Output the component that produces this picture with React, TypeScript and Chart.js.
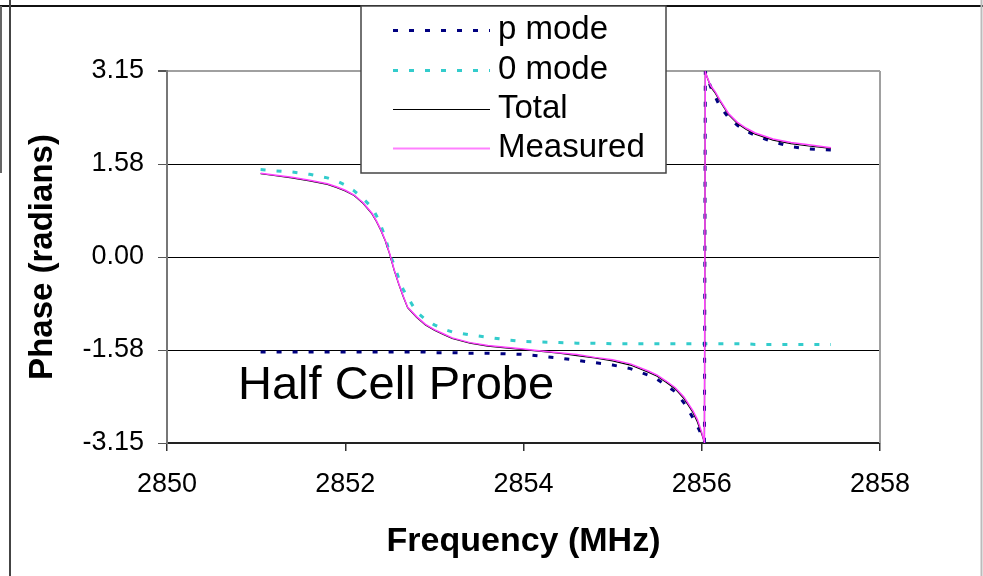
import React, { useEffect, useRef } from 'react';
import { Chart, registerables } from 'chart.js';

Chart.register(...registerables);

// ---- data ----
const frequencies = [
  2851.05, 2851.2, 2851.4, 2851.6, 2851.8, 2851.9, 2852.0, 2852.1, 2852.2, 2852.3,
  2852.35, 2852.4, 2852.45, 2852.5, 2852.55, 2852.6, 2852.65, 2852.7, 2852.8, 2852.9,
  2853.0, 2853.1, 2853.2, 2853.4, 2853.6, 2853.8, 2854.0, 2854.2, 2854.4, 2854.6,
  2854.8, 2855.0, 2855.2, 2855.4, 2855.5, 2855.6, 2855.7, 2855.8, 2855.9, 2855.95,
  2856.0, 2856.03, 2856.04, 2856.1, 2856.15, 2856.2, 2856.3, 2856.4, 2856.5, 2856.6,
  2856.8, 2857.0, 2857.2, 2857.45,
];

const pModePhase = [
  -1.61, -1.61, -1.61, -1.61, -1.61, -1.61, -1.61, -1.61, -1.61, -1.61,
  -1.61, -1.61, -1.61, -1.61, -1.61, -1.61, -1.61, -1.61, -1.61, -1.61,
  -1.62, -1.62, -1.62, -1.63, -1.63, -1.64, -1.65, -1.68, -1.71, -1.75,
  -1.79, -1.83, -1.89, -2.0, -2.07, -2.17, -2.28, -2.47, -2.72, -2.86,
  -3.02, -3.14, 3.14, 2.88, 2.72, 2.56, 2.36, 2.23, 2.13, 2.06,
  1.95, 1.87, 1.83, 1.81,
];

const zeroModePhase = [
  1.48, 1.46, 1.44, 1.4, 1.34, 1.29, 1.22, 1.12, 0.99, 0.84,
  0.7, 0.53, 0.33, 0.05, -0.14, -0.36, -0.55, -0.68, -0.93, -1.06,
  -1.15, -1.22, -1.27, -1.32, -1.36, -1.4, -1.43, -1.44, -1.45, -1.46,
  -1.46, -1.47, -1.47, -1.47, -1.47, -1.47, -1.47, -1.47, -1.47, -1.47,
  -1.47, -1.47, -1.47, -1.47, -1.47, -1.47, -1.47, -1.47, -1.47, -1.48,
  -1.48, -1.48, -1.48, -1.48,
];

const totalPhase = [
  1.41, 1.38, 1.34, 1.29, 1.23, 1.18, 1.12, 1.04, 0.91, 0.73,
  0.6, 0.45, 0.27, 0.04, -0.23, -0.46, -0.67, -0.86, -1.02, -1.15,
  -1.24, -1.31, -1.38, -1.46, -1.51, -1.54, -1.57, -1.6, -1.63, -1.67,
  -1.71, -1.76, -1.83, -1.95, -2.02, -2.12, -2.23, -2.4, -2.63, -2.79,
  -3.0, -3.14, 3.13, 2.88, 2.78, 2.65, 2.41, 2.26, 2.16, 2.08,
  1.98, 1.92, 1.88, 1.84,
];

const measuredPhase = [
  1.42, 1.39, 1.35, 1.3, 1.24, 1.19, 1.13, 1.05, 0.92, 0.74,
  0.61, 0.46, 0.28, 0.05, -0.22, -0.45, -0.66, -0.85, -1.01, -1.14,
  -1.23, -1.3, -1.37, -1.45, -1.5, -1.53, -1.56, -1.59, -1.62, -1.65,
  -1.7, -1.74, -1.81, -1.93, -2.0, -2.1, -2.21, -2.37, -2.6, -2.75,
  -2.97, -3.14, 3.13, 2.9, 2.8, 2.67, 2.43, 2.28, 2.18, 2.1,
  2.0, 1.94, 1.9, 1.85,
];

const seriesNames = ['p mode', '0 mode', 'Total', 'Measured'];
const xTickMin = 2850;
const xTickMax = 2858;
const xTickStep = 2;
const yTickValues = [-3.15, -1.575, 0, 1.575, 3.15];
const yTickLabels = ['-3.15', '-1.58', '0.00', '1.58', '3.15'];
const annotationText = 'Half Cell Probe';
const xTitle = 'Frequency (MHz)';
const yTitle = 'Phase (radians)';

const FONT = '"Liberation Sans", Arial, Helvetica, sans-serif';

const COLORS = ['#000080', '#33CCCC', '#000000', '#FF40FF'];
const WIDTHS = [3, 3, 1.2, 1.5];
const DASHES: number[][] = [[5, 11], [5, 11], [], []];

const framePlugin = {
  id: 'framePlugin',
  beforeDraw(chart: any) {
    const ctx = chart.ctx;
    ctx.save();
    ctx.fillStyle = '#ffffff';
    ctx.fillRect(0, 0, chart.width, chart.height);
    ctx.lineWidth = 2;
    ctx.strokeStyle = '#111';
    ctx.beginPath();
    ctx.moveTo(0, 6);
    ctx.lineTo(chart.width, 6);
    ctx.stroke();
    ctx.strokeStyle = '#444';
    ctx.beginPath();
    ctx.moveTo(10, 0);
    ctx.lineTo(10, chart.height);
    ctx.stroke();
    ctx.strokeStyle = '#666';
    ctx.beginPath();
    ctx.moveTo(1, 6);
    ctx.lineTo(1, 173);
    ctx.stroke();
    ctx.strokeStyle = '#bbb';
    ctx.beginPath();
    ctx.moveTo(chart.width - 1.5, 0);
    ctx.lineTo(chart.width - 1.5, chart.height);
    ctx.stroke();
    ctx.restore();
  },
  beforeDatasetsDraw(chart: any) {
    const { ctx, chartArea } = chart;
    ctx.save();
    ctx.strokeStyle = '#a0a0a0';
    ctx.lineWidth = 2;
    ctx.beginPath();
    ctx.moveTo(chartArea.right, chartArea.top);
    ctx.lineTo(chartArea.right, chartArea.bottom);
    ctx.stroke();
    ctx.restore();
  },
  afterDraw(chart: any) {
    const ctx = chart.ctx;
    ctx.save();
    // annotation
    ctx.fillStyle = '#000';
    ctx.font = `47px ${FONT}`;
    ctx.textBaseline = 'alphabetic';
    ctx.textAlign = 'left';
    ctx.fillText(annotationText, 238, 399);
    // legend
    const bx = 361, by = 6, bw = 305, bh = 167;
    ctx.fillStyle = '#fff';
    ctx.fillRect(bx, by, bw, bh);
    ctx.strokeStyle = '#444';
    ctx.lineWidth = 1.5;
    ctx.strokeRect(bx, by, bw, bh);
    const baselines = [39, 79, 118, 157];
    ctx.font = `33px ${FONT}`;
    seriesNames.forEach((name, i) => {
      const y = baselines[i] - 8.5;
      ctx.beginPath();
      ctx.setLineDash(DASHES[i]);
      ctx.strokeStyle = i === 3 ? '#FF80FF' : COLORS[i];
      ctx.lineWidth = i === 3 ? 2 : WIDTHS[i];
      ctx.moveTo(393, y);
      ctx.lineTo(490, y);
      ctx.stroke();
      ctx.setLineDash([]);
      ctx.fillStyle = '#000';
      ctx.fillText(name, 498, baselines[i]);
    });
    ctx.restore();
  },
};

export default function App() {
  const canvasRef = useRef<HTMLCanvasElement | null>(null);

  useEffect(() => {
    document.body.style.margin = '0';
    const canvas = canvasRef.current;
    if (!canvas) return;
    const series = [pModePhase, zeroModePhase, totalPhase, measuredPhase];
    const orders = [2, 3, 1, 0];
    const chart = new Chart(canvas, {
      type: 'line',
      data: {
        datasets: series.map((vals, i) => ({
          label: seriesNames[i],
          data: frequencies.map((f, j) => ({ x: f, y: vals[j] })),
          borderColor: COLORS[i],
          borderWidth: WIDTHS[i],
          borderDash: DASHES[i],
          pointRadius: 0,
          tension: 0,
          fill: false,
          order: orders[i],
        })),
      },
      options: {
        animation: false,
        responsive: false,
        maintainAspectRatio: false,
        devicePixelRatio: 1,
        layout: { padding: { left: 0, right: 103, top: 71, bottom: 0 } },
        plugins: {
          legend: { display: false },
          tooltip: { enabled: false },
          title: { display: false },
        },
        scales: {
          x: {
            type: 'linear',
            min: xTickMin,
            max: xTickMax,
            ticks: {
              stepSize: xTickStep,
              padding: 17,
              color: '#000',
              font: { family: FONT, size: 27 },
              maxRotation: 0,
              callback: (v: any) => String(v),
            },
            grid: {
              drawOnChartArea: false,
              drawTicks: true,
              tickLength: 8,
              tickColor: '#333',
              lineWidth: 1.5,
            },
            border: { display: true, color: '#222', width: 2 },
            title: {
              display: true,
              text: xTitle,
              color: '#000',
              font: { family: FONT, size: 34, weight: 'bold' },
              padding: { top: 0, bottom: 14 },
            },
            afterFit: (scale: any) => {
              scale.height = 133;
            },
          },
          y: {
            type: 'linear',
            min: -3.15,
            max: 3.15,
            afterBuildTicks: (scale: any) => {
              scale.ticks = yTickValues.map((v) => ({ value: v }));
            },
            ticks: {
              padding: 14,
              color: '#000',
              font: { family: FONT, size: 27 },
              callback: (_v: any, idx: number) => yTickLabels[idx],
            },
            grid: {
              color: (c: any) => (c.tick && c.tick.value === 3.15 ? '#a0a0a0' : '#000'),
              lineWidth: (c: any) => (c.tick && c.tick.value === 3.15 ? 2 : 1),
              tickLength: 9,
              tickColor: '#555',
            },
            border: { display: true, color: '#777', width: 2 },
            title: {
              display: true,
              text: yTitle,
              color: '#000',
              font: { family: FONT, size: 33, weight: 'bold' },
              padding: { top: 23, bottom: 0 },
            },
            afterFit: (scale: any) => {
              scale.width = 167;
            },
          },
        },
      },
      plugins: [framePlugin],
    });
    return () => chart.destroy();
  }, []);

  return (
    <div style={{ width: 983, height: 576 }}>
      <canvas ref={canvasRef} width={983} height={576} style={{ width: 983, height: 576, display: 'block' }} />
    </div>
  );
}
